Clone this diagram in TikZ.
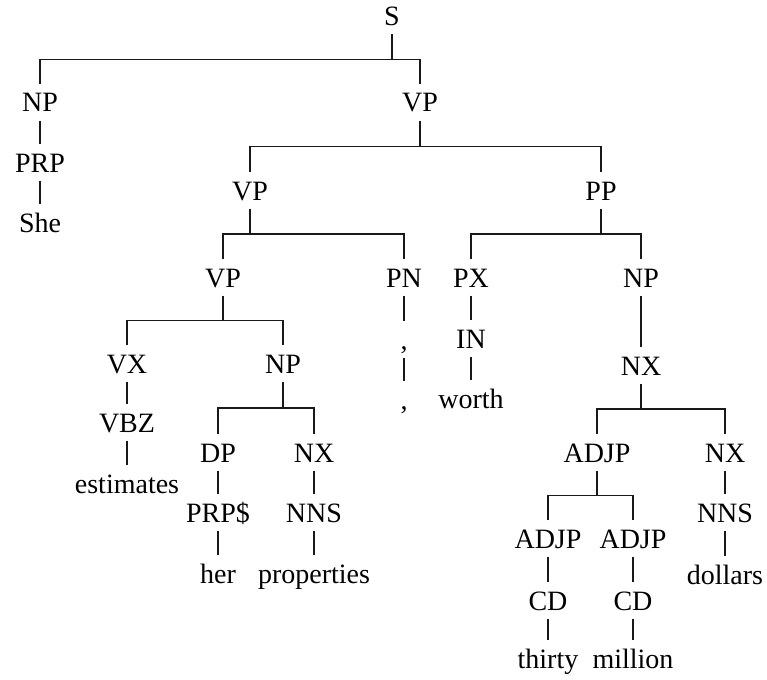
\documentclass[tikz,border=0pt]{standalone}
\usepackage{fontspec}
\setmainfont{Liberation Serif}
\usetikzlibrary{positioning, calc}
\newcommand{\treefork}[3]{%
  \draw[edge] (#2.north) |- ($(#1.south)!.5!(#1.south |- #2.north)$) -| (#3.north);
  \draw[edge] (#1.south) -- ($(#1.south)!.5!(#1.south |- #2.north)$);}

\begin{document}
\begin{tikzpicture}[x=1pt, y=-1pt,
    tag/.style={font=\fontsize{28}{30}\selectfont, anchor=base, text height=19pt, text depth=0pt, inner xsep=2pt, inner ysep=8.5pt},
    edge/.style={draw=black!90, line width=1.3pt}]
  \useasboundingbox (0,0) rectangle (767,679);

  \node[tag] (s) at (392,25.5) {S};
  \node[tag] (np) at (40,112) {NP};
  \node[tag] (vp) at (420,112) {VP};
  \node[tag] (prp) at (40,172) {PRP};
  \node[tag] (she) at (40,232) {She};
  \node[tag] (vpb) at (250,200) {VP};
  \node[tag] (pp) at (601,200) {PP};
  \node[tag] (vpc) at (223,287) {VP};
  \node[tag] (pn) at (404,287) {PN};
  \node[tag] (px) at (471,287) {PX};
  \node[tag] (npb) at (641,287) {NP};
  \node[tag] (vx) at (127,373) {VX};
  \node[tag] (npc) at (283,373) {NP};
  \node[tag] (commatag) at (404,349) {,};
  \node[tag] (commaword) at (404,409) {,};
  \node[tag] (in) at (471,348) {IN};
  \node[tag] (worth) at (471,408) {worth};
  \node[tag] (nx) at (641,375) {NX};
  \node[tag] (vbz) at (127,432) {VBZ};
  \node[tag] (estimates) at (127,493) {estimates};
  \node[tag] (dp) at (218,462) {DP};
  \node[tag] (nxb) at (314,462) {NX};
  \node[tag] (adjp) at (597,462) {ADJP};
  \node[tag] (nxc) at (725,462) {NX};
  \node[tag] (prpd) at (218,522) {PRP\$};
  \node[tag] (nns) at (314,522) {NNS};
  \node[tag] (nnsb) at (725,522) {NNS};
  \node[tag] (her) at (218,583) {her};
  \node[tag] (properties) at (314,583) {properties};
  \node[tag] (dollars) at (725,584) {dollars};
  \node[tag] (adjpl) at (548,548) {ADJP};
  \node[tag] (adjpr) at (633,548) {ADJP};
  \node[tag] (cdl) at (548,610) {CD};
  \node[tag] (cdr) at (633,610) {CD};
  \node[tag] (thirty) at (548,668) {thirty};
  \node[tag] (million) at (633,668) {million};

  \treefork{s}{np}{vp}
  \treefork{vp}{vpb}{pp}
  \treefork{vpb}{vpc}{pn}
  \treefork{pp}{px}{npb}
  \treefork{vpc}{vx}{npc}
  \treefork{npc}{dp}{nxb}
  \treefork{nx}{adjp}{nxc}
  \treefork{adjp}{adjpl}{adjpr}

  \draw[edge] (np.south) -- (prp.north);
  \draw[edge] (prp.south) -- (she.north);
  \draw[edge] (pn.south) -- (commatag.north);
  \draw[edge] (commatag.south) -- (commaword.north);
  \draw[edge] (px.south) -- (in.north);
  \draw[edge] (in.south) -- (worth.north);
  \draw[edge] (npb.south) -- (nx.north);
  \draw[edge] (vx.south) -- (vbz.north);
  \draw[edge] (vbz.south) -- (estimates.north);
  \draw[edge] (dp.south) -- (prpd.north);
  \draw[edge] (prpd.south) -- (her.north);
  \draw[edge] (nxb.south) -- (nns.north);
  \draw[edge] (nns.south) -- (properties.north);
  \draw[edge] (nxc.south) -- (nnsb.north);
  \draw[edge] (nnsb.south) -- (dollars.north);
  \draw[edge] (adjpl.south) -- (cdl.north);
  \draw[edge] (cdl.south) -- (thirty.north);
  \draw[edge] (adjpr.south) -- (cdr.north);
  \draw[edge] (cdr.south) -- (million.north);
\end{tikzpicture}
\end{document}
